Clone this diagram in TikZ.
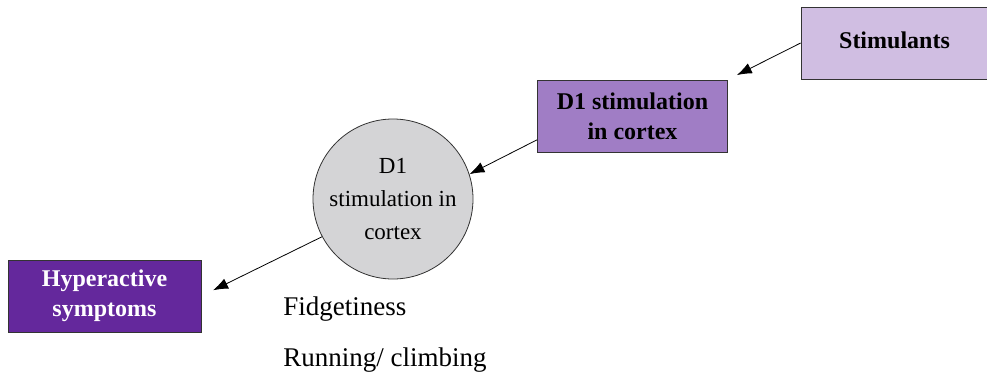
\documentclass[tikz,border=0pt]{standalone}
\usepackage{fontspec}
\setmainfont{Liberation Serif}
\usetikzlibrary{arrows.meta}
\definecolor{stimfill}{HTML}{D0BEE2}
\definecolor{dfill}{HTML}{A07DC5}
\definecolor{hyperfill}{HTML}{64289C}
\definecolor{circfill}{HTML}{D4D4D6}
\begin{document}
\begin{tikzpicture}[x=0.5pt,y=-0.5pt]
			\tikzstyle{box} = [
				rectangle, draw = black!80, thin, align = center,
				minimum width = 95pt, minimum height = 36pt, inner sep = 0pt,
				font = \fontsize{12}{15}\selectfont\bfseries
			]
			\tikzstyle{blob} = [
				circle, draw = black!80, thin, fill = circfill, align = center,
				minimum size = 80pt, inner sep = 0pt,
				font = \fontsize{11.5}{16.5}\selectfont
			]
			\tikzstyle{item} = [anchor = west, inner sep = 0pt, font = \fontsize{13.5}{16}\selectfont]
			\tikzstyle{line}=[-{Latex[length=7.5pt,width=5.5pt]},draw=black,thin]
			\useasboundingbox (0,0) rectangle (987,381);
			\node[box, fill = stimfill, minimum width = 93.5pt] (stim) at (894.5, 43) {\raisebox{3pt}{Stimulants}};
			\node[box, fill = dfill] (dbox) at (632.5, 116) {D1 stimulation\\in cortex};
			\node[blob] (dcirc) at (393, 199) {D1\\stimulation in\\cortex};
			\node[box, fill = hyperfill, text = white, minimum width = 96.5pt] (hyper) at (104.5, 296) {Hyperactive\\symptoms};
			\node[item] (fidget) at (283, 309) {Fidgetiness};
			\node[item] (climb) at (283, 360) {Running/ climbing};
			\draw (stim.west) to (dbox.north east) [line, shorten >=5pt];
			\draw (dbox.194) to (dcirc.18) [line];
			\draw (dcirc.208) to (hyper.east) [line, shorten >=6.5pt];
		\end{tikzpicture}
\end{document}
